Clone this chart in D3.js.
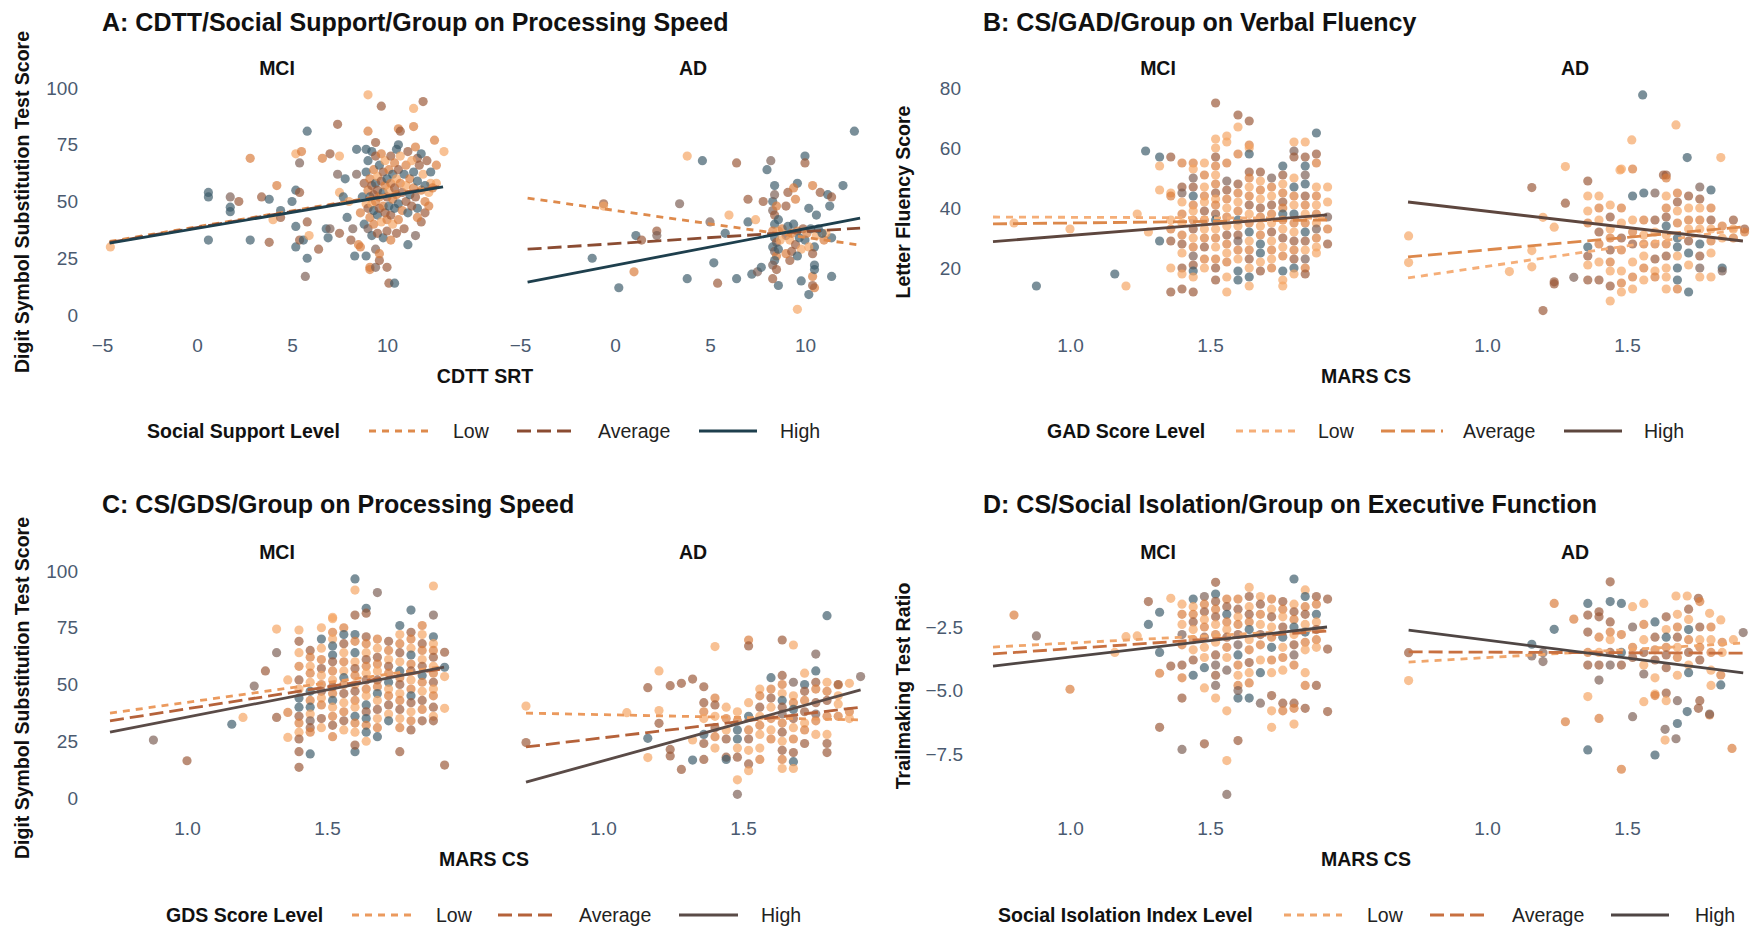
<!DOCTYPE html>
<html>
<head>
<meta charset="utf-8">
<script src="https://cdn.jsdelivr.net/npm/d3@7"></script>
<style>
  body { margin: 0; background: #fff; }
  text { font-family: "Liberation Sans", Arial, Helvetica, sans-serif; }
  .title { font-size: 25px; font-weight: bold; fill: #111; }
  .facet { font-size: 19.5px; font-weight: bold; fill: #111; text-anchor: middle; }
  .axtitle { font-size: 19.5px; font-weight: bold; fill: #111; text-anchor: middle; }
  .legtitle { font-size: 19.5px; font-weight: bold; fill: #111; }
  .leglabel { font-size: 19.5px; fill: #222; }
</style>
</head>
<body>
<script>
// facets and moderator levels
const facets = ["MCI", "AD"];
const levels = ["Low", "Average", "High"];

// ---- Panel A: CDTT / Social Support ----
const aXTicks = [-5, 0, 5, 10];
const aYTicks = [0, 25, 50, 75, 100];
const aLineColors = ["#de8a4c", "#8b4c32", "#1e3f4d"];
// fitted lines: [x0, y0, x1, y1] for Low, Average, High
const aMciFit = [[-4.6, 32.4, 12.9, 57.0], [-4.6, 32.0, 12.9, 56.7], [-4.6, 31.7, 12.95, 56.4]];
const aAdFit = [[-4.6, 51.5, 12.9, 30.8], [-4.6, 29.0, 12.9, 38.3], [-4.6, 14.5, 12.9, 42.7]];
// points: [x, y, colour index]
const aMciPoints = [
  [-4.56,30,0],[0.6,54,4],[0.6,52,4],[0.6,33,4],[1.75,52,3],[1.75,47.5,4],[1.75,45.5,4],[2.2,50,2],[2.8,69,1],[2.8,33,4],
  [3.4,52,2],[3.8,51,4],[3.8,32,2],[4.0,42,0],[4.2,57,1],[4.4,46,4],[4.4,43,2],[5.0,50,4],[5.2,71,0],[5.5,72,1],
  [5.2,55,4],[5.4,54,2],[5.4,67,3],[5.2,39,4],[5.2,30,4],[5.4,33,2],[5.6,33,4],[5.7,17,3],[5.8,25,4],[5.8,81,4],
  [5.8,41,2],[5.9,35,0],[6.6,69,1],[7.0,71,2],[6.4,29,2],[6.8,38,4],[6.9,34,4],[7.0,38,3],[7.4,84,2],[7.4,62,3],
  [7.5,70,0],[7.5,54,0],[7.7,52,4],[7.8,60,4],[7.9,43,4],[7.5,36,2],[8.0,50,0],[8.1,33,2],[8.2,38,3],[8.3,26,4],
  [8.4,73,4],[8.4,62,3],[8.5,31,1],[8.6,30,1],[8.9,26,4],[8.9,73,4],[9.0,81,1],[9.1,21,1],[9.1,20,1],[9.4,21,3],
  [9.4,76,2],[9.7,92,2],[9.0,97,0],[10.1,14,2],[10.4,14,4],[10.0,21,2],[9.6,24,2],[10.6,82,1],[10.7,81,2],[10.6,75,4],
  [11.4,91,0],[11.4,83,1],[11.9,94,2],[12.5,77,1],[13.0,72,0],[12.6,66,1],[11.6,69,2],[11.5,35,3],[11.1,31,4],[11.6,47,4],
  [12.0,45,2],[12.2,48,1],[11.8,41,2],[12.3,58,0],[12.6,58,0],
  [8.6,45,1],[8.7,52,4],[8.8,58,2],[8.8,40,4],[8.9,49,0],[8.9,63,4],[9.0,55,1],[9.0,47,2],[9.0,68,4],[9.0,38,3],
  [9.1,60,1],[9.1,52,4],[9.1,43,1],[9.2,72,4],[9.2,57,2],[9.2,49,0],[9.2,35,4],[9.3,64,1],[9.3,53,2],[9.3,46,4],
  [9.3,40,1],[9.4,70,2],[9.4,58,4],[9.4,50,1],[9.4,29,3],[9.5,61,0],[9.5,55,2],[9.5,44,4],[9.5,36,2],[9.6,66,4],
  [9.6,52,1],[9.6,47,2],[9.6,27,1],[9.7,59,2],[9.7,41,0],[9.7,71,1],[9.8,54,4],[9.8,48,1],[9.8,63,2],[9.8,34,4],
  [9.9,57,1],[9.9,45,2],[9.9,68,0],[10.0,60,4],[10.0,52,2],[10.0,42,1],[10.0,37,2],[10.1,64,1],[10.1,55,0],[10.1,48,4],
  [10.2,70,2],[10.2,58,1],[10.2,44,2],[10.2,33,1],[10.3,62,4],[10.3,51,1],[10.3,40,0],[10.4,67,1],[10.4,56,2],[10.4,47,4],
  [10.5,73,4],[10.5,60,0],[10.5,53,1],[10.5,36,2],[10.6,64,2],[10.6,49,4],[10.6,42,1],[10.7,58,1],[10.7,70,0],[10.8,54,2],
  [10.8,46,1],[10.9,62,4],[10.9,38,2],[11.0,66,1],[11.0,57,0],[11.0,50,2],[11.1,72,2],[11.1,45,4],[11.2,60,1],[11.2,53,4],
  [11.3,68,0],[11.3,48,2],[11.4,56,1],[11.4,63,4],[11.5,74,1],[11.5,52,2],[11.6,59,4],[11.6,43,1],[11.7,66,2],[11.8,55,1],
  [11.8,71,4],[11.9,62,0],[12.0,57,4],[12.0,50,1],[12.1,68,2],[12.2,54,0],[12.3,63,4],[12.4,56,1]
];
const aAdPoints = [
  [12.6,81,4],[3.8,70,0],[4.6,68,4],[6.4,67,2],[8.2,68,3],[8.0,64,4],[10.0,70,4],[10.0,67,2],[-0.6,49,2],[-0.6,48,0],
  [3.4,49,3],[5.0,41,3],[6.0,44,0],[1.1,35,4],[1.4,33,2],[2.2,37,2],[2.2,35,3],[-1.2,25,4],[0.2,12,4],[1.0,19,1],
  [3.8,16,4],[5.2,23,4],[5.4,14,2],[6.4,16,4],[5.8,36,4],[7.0,41,4],[7.4,42,0],[7.0,51,2],[7.8,50,2],[7.2,18,4],
  [7.5,19,3],[7.7,21,4],[8.4,57,4],[9.6,58,4],[9.1,54,2],[9.4,56,1],[9.5,51,1],[9.0,48,2],[10.4,57,1],[10.8,54,2],
  [11.2,53,4],[11.4,52,2],[11.3,48,4],[12.0,57,4],[10.2,47,4],[10.6,44,4],[9.6,2.5,0],[10.2,9,4],[10.5,12,1],[10.4,13,2],
  [9.8,15,4],[10.4,17,1],[10.5,20,4],[10.5,22,4],[11.4,17,4],[10.5,30,4],[11.4,34,4],[11.1,36,0],[9.2,24,2],[8.6,13,4],
  [8.3,16,2],
  [8.3,50,4],[8.3,46,3],[8.4,44,2],[8.4,40,4],[8.3,37,1],[8.4,34,4],[8.5,32,2],[8.3,30,4],[8.4,28,3],[8.5,26,1],
  [8.4,24,4],[8.3,22,3],[8.5,20,2],[8.6,37,0],[8.6,42,4],[8.5,48,1],[8.4,53,3],[8.6,29,4],
  [8.8,38,1],[9.0,35,2],[9.1,39,4],[9.2,33,0],[9.3,36,1],[9.4,40,4],[9.5,31,2],[9.6,37,1],[9.7,34,4],[9.8,29,0],
  [9.9,38,2],[10.0,33,4],[10.1,36,1],[10.2,30,0],[10.3,38,4],[10.4,27,2],[10.6,35,0],[10.7,38,4],[11.0,33,1],[9.0,27,1],
  [9.3,28,2],[9.6,26,4],[8.7,33,0],[10.9,36,4]
];

// ---- Panel B: CS / GAD ----
const bXTicks = [1.0, 1.5];
const bYTicks = [20, 40, 60, 80];
const bLineColors = ["#f5ae78", "#dc884b", "#5d463e"];
const bMciFit = [[0.725, 37.0, 1.918, 36.6], [0.725, 34.7, 1.918, 36.0], [0.725, 28.8, 1.918, 37.7]];
const bAdFit = [[0.718, 16.7, 1.914, 33.0], [0.718, 23.7, 1.914, 33.7], [0.718, 42.0, 1.914, 29.0]];
const bMciPoints = [
  [1.36,57,2],[1.36,45,0],[1.36,44,1],[1.36,36,0],[1.36,33,1],[1.36,29,2],[1.36,20,0],
  [1.40,55,1],[1.40,47,2],[1.40,45,3],[1.40,42,0],[1.40,38,1],[1.40,35,0],[1.40,31,1],[1.40,28,2],[1.40,25,0],[1.40,20,2],[1.40,18,0],[1.40,13,2],
  [1.44,55,1],[1.44,53,0],[1.44,50,3],[1.44,47,2],[1.44,44,4],[1.44,41,1],[1.44,39,0],[1.44,36,1],[1.44,33,2],[1.44,30,0],[1.44,27,1],[1.44,24,3],[1.44,21,2],[1.44,19,4],[1.44,17,0],[1.44,12,2],
  [1.48,55,0],[1.48,51,1],[1.48,47,0],[1.48,44,1],[1.48,42,0],[1.48,39,2],[1.48,36,1],[1.48,33,0],[1.48,30,1],[1.48,27,2],[1.48,23,1],[1.48,20,0],
  [1.52,75,2],[1.52,63,0],[1.52,60,0],[1.52,57,2],[1.52,54,1],[1.52,51,0],[1.52,48,1],[1.52,45,2],[1.52,43,0],[1.52,41,1],[1.52,38,2],[1.52,36,4],[1.52,33,0],[1.52,30,1],[1.52,27,0],[1.52,23,1],[1.52,20,2],[1.52,16,2],
  [1.56,64,0],[1.56,62,0],[1.56,55,1],[1.56,49,3],[1.56,46,2],[1.56,43,1],[1.56,40,0],[1.56,37,1],[1.56,34,0],[1.56,31,2],[1.56,28,1],[1.56,25,0],[1.56,22,1],[1.56,17,0],[1.56,12,0],
  [1.60,71,2],[1.60,67,0],[1.60,58,1],[1.60,48,2],[1.60,45,1],[1.60,42,0],[1.60,39,1],[1.60,36,4],[1.60,34,0],[1.60,31,2],[1.60,29,3],[1.60,26,1],[1.60,23,0],[1.60,19,4],[1.60,16,4],
  [1.64,69,2],[1.64,61,1],[1.64,60,0],[1.64,58,4],[1.64,52,2],[1.64,50,1],[1.64,47,0],[1.64,44,1],[1.64,41,2],[1.64,38,0],[1.64,35,1],[1.64,32,4],[1.64,29,0],[1.64,26,1],[1.64,23,2],[1.64,20,0],[1.64,17,4],[1.64,14,0],
  [1.68,52,2],[1.68,49,0],[1.68,46,1],[1.68,43,0],[1.68,40,2],[1.68,37,1],[1.68,34,0],[1.68,31,1],[1.68,28,4],[1.68,25,4],[1.68,22,0],[1.68,19,2],
  [1.72,50,3],[1.72,47,1],[1.72,44,0],[1.72,41,2],[1.72,38,1],[1.72,35,0],[1.72,32,2],[1.72,29,0],[1.72,26,1],[1.72,23,0],[1.72,20,1],
  [1.76,54,4],[1.76,51,2],[1.76,48,0],[1.76,45,1],[1.76,42,2],[1.76,40,1],[1.76,38,4],[1.76,36,1],[1.76,33,0],[1.76,30,2],[1.76,27,0],[1.76,24,1],[1.76,19,4],[1.76,16,0],[1.76,14,0],
  [1.80,62,0],[1.80,59,3],[1.80,57,2],[1.80,50,0],[1.80,47,4],[1.80,44,1],[1.80,41,0],[1.80,38,4],[1.80,35,1],[1.80,32,0],[1.80,29,2],[1.80,26,1],[1.80,23,2],[1.80,20,4],[1.80,18,0],
  [1.84,62,0],[1.84,57,2],[1.84,54,4],[1.84,51,3],[1.84,48,4],[1.84,44,2],[1.84,41,1],[1.84,38,0],[1.84,35,1],[1.84,32,4],[1.84,29,2],[1.84,26,0],[1.84,23,3],[1.84,20,1],[1.84,18,2],
  [1.88,65,4],[1.88,58,2],[1.88,55,1],[1.88,47,0],[1.88,44,1],[1.88,41,0],[1.88,38,1],[1.88,35,0],[1.88,33,3],[1.88,30,1],[1.88,27,0],[1.88,25,0],
  [1.92,47,0],[1.92,42,0],[1.92,37,3],[1.92,33,1],[1.92,28,2],
  [1.27,59,4],[1.32,57,4],[1.32,54,0],[1.32,46,0],[1.32,29,4],[1.24,38,0],[1.28,32,0],[1.0,33,0],[0.8,35,0],[0.88,14,4],
  [1.16,18,4],[1.2,14,0],[1.36,12,2]
];
const bAdPoints = [
  [1.556,77.7,4],[1.675,67.7,0],[1.517,62.7,0],[1.715,56.8,4],[1.835,56.8,0],[1.28,53.8,0],[1.16,46.8,2],[1.475,52.7,0],[1.63,51,2],[0.72,30.7,0],
  [0.72,21.8,0],[1.2,36.9,0],[1.24,33.6,0],[1.28,41.6,2],[1.2,5.8,2],[1.16,25.8,0],[1.16,20.4,0],[1.08,18.8,0],[1.24,15.4,2],[1.24,14.7,2],
  [1.31,16.9,3],
  [1.36,49,2],[1.36,44,0],[1.36,39,0],[1.36,35,1],[1.36,27,4],[1.36,24,2],[1.36,21,0],[1.36,16,2],
  [1.40,44,0],[1.40,40,1],[1.40,36,0],[1.40,32,2],[1.40,28,1],[1.40,22,0],[1.40,16,2],
  [1.44,41,0],[1.44,37,2],[1.44,33,0],[1.44,30,1],[1.44,26,2],[1.44,22,1],[1.44,19,0],[1.44,14,2],[1.44,9,0],
  [1.48,53,0],[1.48,40,1],[1.48,35,0],[1.48,30,2],[1.48,26,1],[1.48,19,0],[1.48,15,1],[1.48,12,0],
  [1.52,53,1],[1.52,44,4],[1.52,36,0],[1.52,32,1],[1.52,28,2],[1.52,22,0],[1.52,17,1],[1.52,13,0],
  [1.56,45,4],[1.56,36,1],[1.56,31,0],[1.56,28,1],[1.56,24,0],[1.56,20,1],[1.56,16,0],
  [1.60,45,3],[1.60,36,2],[1.60,32,0],[1.60,28,1],[1.60,23,2],[1.60,19,0],[1.60,17,1],
  [1.64,51,2],[1.64,50,1],[1.64,44,0],[1.64,40,1],[1.64,37,2],[1.64,34,4],[1.64,31,0],[1.64,28,1],[1.64,24,2],[1.64,20,0],[1.64,17,0],[1.64,13,0],
  [1.68,45,1],[1.68,42,2],[1.68,39,0],[1.68,35,1],[1.68,30,4],[1.68,27,4],[1.68,24,0],[1.68,20,4],[1.68,16,4],[1.68,13,1],
  [1.72,44,2],[1.72,40,0],[1.72,36,1],[1.72,33,0],[1.72,29,2],[1.72,25,4],[1.72,21,0],[1.72,12,4],
  [1.76,47,3],[1.76,43,2],[1.76,40,0],[1.76,36,1],[1.76,33,0],[1.76,28,4],[1.76,24,2],[1.76,20,3],[1.76,17,0],
  [1.80,46,4],[1.80,40,1],[1.80,36,2],[1.80,33,0],[1.80,29,1],[1.80,25,0],[1.80,17,0],
  [1.84,34,1],[1.84,30,0],[1.84,20,4],[1.84,19,3],
  [1.88,36,2],[1.88,33,0],[1.88,30,1],
  [1.92,33,2],[1.92,32,1]
];

// ---- Panel C: CS / GDS ----
const cXTicks = [1.0, 1.5];
const cYTicks = [0, 25, 50, 75, 100];
const cLineColors = ["#eb9a5e", "#b5623a", "#5a4b47"];
const cMciFit = [[0.725, 37.4, 1.918, 58.0], [0.725, 34.0, 1.918, 57.0], [0.725, 29.0, 1.918, 57.7]];
const cAdFit = [[0.725, 37.4, 1.92, 34.4], [0.725, 22.5, 1.92, 40.0], [0.725, 7.0, 1.92, 47.6]];
const cMciPoints = [
  [0.88,25.5,3],[1.0,16.4,2],[1.16,32.5,4],[1.2,35.5,0],[1.24,49.3,3],[1.28,56,2],[1.32,74.4,0],[1.32,64,3],[1.32,35.5,2],[1.36,52,0],
  [1.36,37.7,1],[1.36,26.7,0],[1.6,96.5,4],[1.6,91.6,0],[1.68,90.5,3],[1.88,93.4,0],[1.88,80.6,3],[1.8,82.8,4],[1.64,83.6,4],[1.64,81.4,2],
  [1.6,80.6,2],[1.92,64.2,2],[1.92,57.6,4],[1.92,53.5,0],[1.92,39.5,0],[1.92,14.5,2],[1.6,20.4,4],[1.6,23.3,2],[1.76,20.4,2],[1.4,13.5,2],
  [1.44,19.4,4],[1.4,20.4,2],[1.52,79.6,0],
  [1.40,74,0],[1.40,69,2],[1.40,64,0],[1.40,58,1],[1.40,52,2],[1.40,48,0],[1.40,44,4],[1.40,40,4],[1.40,36,2],[1.40,33,1],[1.40,29,0],[1.40,26,2],
  [1.44,65,2],[1.44,62,1],[1.44,58,0],[1.44,55,1],[1.44,51,0],[1.44,47,4],[1.44,43,1],[1.44,40,4],[1.44,37,0],[1.44,34,3],[1.44,31,2],[1.44,29,1],
  [1.48,75,0],[1.48,70,4],[1.48,66,0],[1.48,61,1],[1.48,57,2],[1.48,54,0],[1.48,50,1],[1.48,47,2],[1.48,44,0],[1.48,41,1],[1.48,35,2],[1.48,31,0],
  [1.52,79,0],[1.52,73,1],[1.52,70,0],[1.52,67,4],[1.52,63,4],[1.52,60,2],[1.52,56,1],[1.52,52,0],[1.52,49,2],[1.52,46,1],[1.52,43,4],[1.52,40,0],[1.52,36,1],[1.52,32,2],[1.52,27,1],
  [1.56,75,1],[1.56,72,4],[1.56,68,2],[1.56,64,0],[1.56,60,1],[1.56,56,0],[1.56,53,4],[1.56,50,1],[1.56,46,2],[1.56,42,0],[1.56,38,1],[1.56,34,2],[1.56,30,0],
  [1.60,72,4],[1.60,69,1],[1.60,64,4],[1.60,60,0],[1.60,57,2],[1.60,54,1],[1.60,50,0],[1.60,47,2],[1.60,43,1],[1.60,40,0],[1.60,36,4],[1.60,33,1],[1.60,29,0],
  [1.64,71,2],[1.64,68,1],[1.64,64,0],[1.64,61,2],[1.64,58,1],[1.64,55,0],[1.64,52,2],[1.64,48,1],[1.64,45,0],[1.64,41,4],[1.64,38,2],[1.64,35,4],[1.64,32,1],[1.64,29,4],[1.64,25,0],
  [1.68,70,1],[1.68,66,0],[1.68,62,2],[1.68,59,1],[1.68,56,0],[1.68,52,2],[1.68,49,1],[1.68,46,4],[1.68,43,0],[1.68,39,2],[1.68,35,0],[1.68,31,1],[1.68,27,4],
  [1.72,69,2],[1.72,65,1],[1.72,61,0],[1.72,58,2],[1.72,55,1],[1.72,51,4],[1.72,48,0],[1.72,45,1],[1.72,41,2],[1.72,37,0],[1.72,34,4],
  [1.76,76,4],[1.76,72,0],[1.76,68,1],[1.76,64,2],[1.76,60,0],[1.76,56,4],[1.76,53,1],[1.76,50,2],[1.76,46,0],[1.76,43,1],[1.76,39,2],[1.76,35,0],[1.76,31,1],
  [1.80,73,2],[1.80,70,1],[1.80,66,0],[1.80,63,4],[1.80,59,1],[1.80,56,2],[1.80,52,0],[1.80,48,1],[1.80,45,4],[1.80,42,2],[1.80,38,0],[1.80,34,1],[1.80,30,2],
  [1.84,76,1],[1.84,72,0],[1.84,68,2],[1.84,65,1],[1.84,61,0],[1.84,58,2],[1.84,54,4],[1.84,51,1],[1.84,47,0],[1.84,43,2],[1.84,39,1],[1.84,34,2],
  [1.88,71,4],[1.88,68,0],[1.88,65,1],[1.88,62,2],[1.88,58,0],[1.88,55,1],[1.88,51,2],[1.88,48,0],[1.88,45,1],[1.88,40,2],[1.88,36,0],[1.88,34,2]
];
const cAdPoints = [
  [1.80,80.3,4],[0.725,24.4,2],[0.725,40.5,0],[1.085,37.6,0],[1.16,26.3,4],[1.16,17.8,0],[1.16,48.6,2],[1.2,56,0],[1.2,38.5,0],[1.2,32.9,2],
  [1.24,49.5,2],[1.24,21.4,2],[1.24,18.5,2],[1.28,50.5,2],[1.28,12.6,2],[1.32,52.4,2],[1.32,16.7,4],[1.32,25.6,0],[1.4,66.7,0],[1.52,69.6,1],
  [1.52,67,2],[1.64,69.6,2],[1.68,67.4,0],[1.76,63.4,3],[1.92,53.5,3],[1.88,50.5,0],[1.48,1.6,3],[1.84,49.8,0],[1.84,41.4,0],
  [1.36,49,2],[1.36,42,2],[1.36,38,1],[1.36,35,0],[1.36,28,4],[1.36,24,2],[1.36,17,2],
  [1.40,44,1],[1.40,41,2],[1.40,36,0],[1.40,31,2],[1.40,27,1],[1.40,22,0],
  [1.44,40,0],[1.44,35,1],[1.44,30,0],[1.44,26,2],[1.44,18,2],[1.44,17,4],
  [1.48,38,0],[1.48,34,1],[1.48,30,4],[1.48,26,4],[1.48,22,0],[1.48,18,2],[1.48,8,0],
  [1.52,42,0],[1.52,36,4],[1.52,30,1],[1.52,26,2],[1.52,21,0],[1.52,15,2],[1.52,12,0],
  [1.56,48,0],[1.56,45,1],[1.56,40,2],[1.56,36,0],[1.56,32,1],[1.56,28,0],[1.56,22,0],[1.56,17,1],
  [1.60,53,4],[1.60,48,1],[1.60,44,2],[1.60,40,0],[1.60,35,1],[1.60,30,0],[1.60,26,1],
  [1.64,54,2],[1.64,50,1],[1.64,46,0],[1.64,43,4],[1.64,40,2],[1.64,37,3],[1.64,33,1],[1.64,29,2],[1.64,25,0],[1.64,21,2],[1.64,17,1],[1.64,13,0],
  [1.68,51,3],[1.68,45,0],[1.68,42,1],[1.68,39,4],[1.68,35,2],[1.68,31,0],[1.68,26,1],[1.68,20,2],[1.68,16,4],[1.68,13,0],
  [1.72,55,0],[1.72,50,4],[1.72,47,2],[1.72,43,1],[1.72,38,2],[1.72,33,0],[1.72,30,1],[1.72,24,2],
  [1.76,56,4],[1.76,51,2],[1.76,48,1],[1.76,42,2],[1.76,37,3],[1.76,34,1],[1.76,28,0],
  [1.80,51,0],[1.80,47,1],[1.80,43,2],[1.80,36,1],[1.80,28,0],[1.80,24,2],[1.80,20,2],
  [1.84,50,2],[1.84,45,0],[1.84,36,1],
  [1.88,38,1],[1.88,35,0]
];

// ---- Panel D: CS / Social Isolation ----
const dXTicks = [1.0, 1.5];
const dYTicks = [-2.5, -5.0, -7.5];
const dLineColors = ["#f0a66c", "#c87040", "#4f4644"];
const dMciFit = [[0.725, -3.29, 1.918, -2.6], [0.725, -3.56, 1.918, -2.66], [0.725, -4.04, 1.918, -2.5]];
const dAdFit = [[0.72, -3.88, 1.915, -3.13], [0.72, -3.48, 1.915, -3.53], [0.72, -2.62, 1.915, -4.31]];
const dMciPoints = [
  [0.80,-2.03,1],[0.88,-2.85,3],[1.0,-4.95,1],[1.16,-3.5,0],[1.2,-2.88,0],[1.24,-2.85,0],[1.28,-1.5,2],[1.28,-2.4,4],[1.32,-1.92,4],[1.32,-3.5,4],
  [1.32,-4.32,1],[1.32,-6.45,2],[1.36,-1.37,0],[1.36,-4.04,2],[1.40,-7.32,3],[1.40,-5.3,2],[1.48,-7.1,2],[1.56,-7.76,0],[1.56,-9.09,3],[1.60,-6.97,2],
  [1.52,-0.74,2],[1.80,-0.61,4],[1.64,-0.94,0],[1.92,-1.4,2],[1.92,-3.37,2],[1.92,-5.83,2],[1.84,-1.04,0],[1.72,-6.45,0],[1.80,-6.32,0],
  [1.40,-1.6,0],[1.40,-2.0,1],[1.40,-2.4,0],[1.40,-2.8,3],[1.40,-3.2,1],[1.40,-4.0,2],[1.40,-4.5,1],
  [1.44,-1.4,4],[1.44,-1.7,0],[1.44,-2.0,1],[1.44,-2.3,2],[1.44,-2.6,0],[1.44,-3.0,1],[1.44,-3.4,0],[1.44,-3.8,2],[1.44,-4.4,4],
  [1.48,-1.3,3],[1.48,-1.6,1],[1.48,-1.9,2],[1.48,-2.2,0],[1.48,-2.5,1],[1.48,-2.9,2],[1.48,-3.3,0],[1.48,-3.7,0],[1.48,-4.1,4],[1.48,-4.9,0],
  [1.52,-1.2,4],[1.52,-1.5,2],[1.52,-1.8,1],[1.52,-2.1,2],[1.52,-2.4,0],[1.52,-2.8,1],[1.52,-3.1,0],[1.52,-3.6,2],[1.52,-4.0,3],[1.52,-4.4,2],[1.52,-4.8,3],[1.52,-5.3,0],
  [1.56,-1.4,1],[1.56,-1.7,2],[1.56,-2.0,4],[1.56,-2.3,1],[1.56,-2.6,0],[1.56,-2.9,2],[1.56,-3.3,1],[1.56,-3.7,0],[1.56,-4.2,3],[1.56,-5.8,0],
  [1.60,-1.4,1],[1.60,-1.8,2],[1.60,-2.1,0],[1.60,-2.4,1],[1.60,-2.8,2],[1.60,-3.2,3],[1.60,-3.6,4],[1.60,-4.0,1],[1.60,-4.4,0],[1.60,-4.8,1],[1.60,-5.3,4],[1.60,-5.0,3],
  [1.64,-1.3,2],[1.64,-1.7,0],[1.64,-2.0,2],[1.64,-2.3,1],[1.64,-2.6,4],[1.64,-3.0,0],[1.64,-3.4,1],[1.64,-3.9,2],[1.64,-4.3,0],[1.64,-4.7,1],[1.64,-5.3,4],
  [1.68,-1.3,0],[1.68,-1.6,2],[1.68,-2.0,1],[1.68,-2.4,0],[1.68,-2.8,2],[1.68,-3.2,1],[1.68,-3.8,0],[1.68,-4.3,4],[1.68,-5.5,3],
  [1.72,-1.4,1],[1.72,-1.8,0],[1.72,-2.1,2],[1.72,-2.5,0],[1.72,-2.9,1],[1.72,-3.3,4],[1.72,-3.8,1],[1.72,-4.3,0],[1.72,-5.2,2],[1.72,-5.8,0],
  [1.76,-1.5,2],[1.76,-1.8,1],[1.76,-2.1,0],[1.76,-2.5,2],[1.76,-2.9,4],[1.76,-3.3,0],[1.76,-3.7,1],[1.76,-4.2,0],[1.76,-5.5,2],[1.76,-5.8,1],
  [1.80,-1.6,0],[1.80,-1.9,2],[1.80,-2.2,1],[1.80,-2.5,4],[1.80,-2.8,0],[1.80,-3.2,2],[1.80,-3.6,3],[1.80,-4.0,1],[1.80,-5.5,2],[1.80,-5.7,1],
  [1.84,-1.3,4],[1.84,-1.7,1],[1.84,-2.0,2],[1.84,-2.4,0],[1.84,-2.7,4],[1.84,-3.1,1],[1.84,-3.4,0],[1.84,-4.3,0],[1.84,-4.8,1],[1.84,-5.7,2],
  [1.88,-1.3,2],[1.88,-1.6,1],[1.88,-2.0,4],[1.88,-2.3,0],[1.88,-2.6,2],[1.88,-3.0,1],[1.88,-3.3,0],[1.88,-4.8,2]
];
const dAdPoints = [
  [0.72,-4.61,0],[0.72,-3.51,2],[1.16,-3.18,4],[1.16,-3.64,3],[1.2,-3.51,3],[1.2,-3.86,3],[1.24,-1.57,1],[1.24,-2.59,4],[1.28,-6.23,1],[1.31,-2.19,1],
  [1.36,-1.57,4],[1.36,-2.03,2],[1.36,-7.34,4],[1.36,-5.24,0],[1.40,-1.9,2],[1.40,-4.59,3],[1.40,-6.1,1],[1.44,-0.72,2],[1.44,-1.5,4],[1.48,-1.57,4],
  [1.48,-8.1,1],[1.52,-1.7,0],[1.56,-1.57,0],[1.56,-4.35,3],[1.56,-5.44,0],[1.52,-6.03,3],[1.60,-7.54,4],[1.60,-5.14,0],[1.675,-1.28,0],[1.715,-1.28,0],
  [1.755,-1.37,2],[1.795,-1.96,0],[1.835,-2.22,0],[1.835,-4.78,4],[1.915,-2.72,3],[1.875,-7.28,1],[1.675,-6.9,3],[1.636,-6.95,0],[1.636,-6.53,3],[1.795,-5.96,1],
  [1.795,-5.93,3],[1.755,-5.7,2],[1.715,-5.83,4],[1.835,-4.39,1],
  [1.36,-2.7,2],[1.36,-3.5,1],[1.36,-4.0,2],
  [1.40,-2.1,2],[1.40,-2.9,1],[1.40,-3.5,0],[1.40,-4.0,2],
  [1.44,-2.3,2],[1.44,-2.7,1],[1.44,-3.0,0],[1.44,-3.5,2],[1.44,-4.0,3],
  [1.48,-2.8,1],[1.48,-3.5,4],[1.48,-4.0,2],
  [1.52,-2.5,3],[1.52,-3.3,1],[1.52,-3.7,2],
  [1.56,-2.4,1],[1.56,-3.0,0],[1.56,-3.5,2],[1.56,-4.0,0],
  [1.60,-2.3,4],[1.60,-2.9,2],[1.60,-3.4,1],[1.60,-3.8,2],[1.60,-4.5,0],[1.60,-5.2,1],
  [1.64,-2.1,2],[1.64,-2.6,0],[1.64,-2.9,4],[1.64,-3.3,1],[1.64,-3.6,2],[1.64,-4.1,2],[1.64,-5.1,2],[1.64,-5.4,0],
  [1.68,-2.0,0],[1.68,-2.5,1],[1.68,-2.9,2],[1.68,-3.3,0],[1.68,-3.7,1],[1.68,-4.4,0],[1.68,-5.4,3],[1.68,-6.3,4],
  [1.72,-1.8,2],[1.72,-2.2,0],[1.72,-2.6,4],[1.72,-3.0,1],[1.72,-3.5,2],[1.72,-4.0,0],[1.72,-4.3,4],
  [1.76,-1.5,1],[1.76,-2.5,2],[1.76,-3.0,0],[1.76,-3.3,1],[1.76,-3.8,2],[1.76,-5.4,2],
  [1.80,-2.5,1],[1.80,-3.0,0],[1.80,-3.5,1],[1.80,-4.2,0],[1.80,-4.8,0],
  [1.84,-3.1,1],[1.84,-3.5,0],
  [1.88,-3.0,0]
];

// shared styling
const pointColors = ["#f5a462", "#d97a3a", "#9a5736", "#7a5d53", "#3b5a69"];
const plotDash = ["7,6", "14,6", null];
const keyDash = ["7,6", "14,6", null];
const tickColor = "#4a5a70";

const svg = d3.select("body").append("svg")
    .attr("width", 1754)
    .attr("height", 928);

// Panel layout (pixel positions only)
const panels = [
  { title: "A: CDTT/Social Support/Group on Processing Speed", titleX: 102, titleY: 31,
    xTicks: aXTicks, xRef: [-5, 10], xPx: [[102, 387], [520, 805]], xFmt: d3.format("d"),
    yTicks: aYTicks, yRef: [0, 100], yPx: [315, 88], yFmt: d3.format("d"),
    points: [aMciPoints, aAdPoints], fits: [aMciFit, aAdFit], lineColors: aLineColors,
    facetX: [277, 693], facetY: 75, yTickRight: 78, xTickBase: 352,
    xTitle: "CDTT SRT", xTitleX: 485, xTitleY: 383,
    yTitle: "Digit Symbol Substitution Test Score", yTitleX: 29, yTitleY: 202,
    legTitle: "Social Support Level", legY: 431, legTitleX: 147,
    keys: [[369, 431], [517, 576], [699, 757]], labX: [453, 598, 780] },
  { title: "B: CS/GAD/Group on Verbal Fluency", titleX: 983, titleY: 31,
    xTicks: bXTicks, xRef: [1.0, 1.5], xPx: [[1070, 1210], [1487, 1627]], xFmt: d3.format(".1f"),
    yTicks: bYTicks, yRef: [20, 80], yPx: [268, 88], yFmt: d3.format("d"),
    points: [bMciPoints, bAdPoints], fits: [bMciFit, bAdFit], lineColors: bLineColors,
    facetX: [1158, 1575], facetY: 75, yTickRight: 961, xTickBase: 352,
    xTitle: "MARS CS", xTitleX: 1366, xTitleY: 383,
    yTitle: "Letter Fluency Score", yTitleX: 910, yTitleY: 202,
    legTitle: "GAD Score Level", legY: 431, legTitleX: 1047,
    keys: [[1236, 1295], [1381, 1443], [1564, 1622]], labX: [1318, 1463, 1644] },
  { title: "C: CS/GDS/Group on Processing Speed", titleX: 102, titleY: 513,
    xTicks: cXTicks, xRef: [1.0, 1.5], xPx: [[187, 327], [603, 743]], xFmt: d3.format(".1f"),
    yTicks: cYTicks, yRef: [0, 100], yPx: [798, 571], yFmt: d3.format("d"),
    points: [cMciPoints, cAdPoints], fits: [cMciFit, cAdFit], lineColors: cLineColors,
    facetX: [277, 693], facetY: 559, yTickRight: 78, xTickBase: 835,
    xTitle: "MARS CS", xTitleX: 484, xTitleY: 866,
    yTitle: "Digit Symbol Substitution Test Score", yTitleX: 29, yTitleY: 688,
    legTitle: "GDS Score Level", legY: 915, legTitleX: 166,
    keys: [[352, 412], [498, 557], [679, 738]], labX: [436, 579, 761] },
  { title: "D: CS/Social Isolation/Group on Executive Function", titleX: 983, titleY: 513,
    xTicks: dXTicks, xRef: [1.0, 1.5], xPx: [[1070, 1210], [1487, 1627]], xFmt: d3.format(".1f"),
    yTicks: dYTicks, yRef: [-2.5, -7.5], yPx: [627, 754], yFmt: d3.format(".1f"),
    points: [dMciPoints, dAdPoints], fits: [dMciFit, dAdFit], lineColors: dLineColors,
    facetX: [1158, 1575], facetY: 559, yTickRight: 963, xTickBase: 835,
    xTitle: "MARS CS", xTitleX: 1366, xTitleY: 866,
    yTitle: "Trailmaking Test Ratio", yTitleX: 910, yTitleY: 686,
    legTitle: "Social Isolation Index Level", legY: 915, legTitleX: 998,
    keys: [[1284, 1342], [1430, 1488], [1611, 1669]], labX: [1367, 1512, 1695] }
];

panels.forEach(drawPanel);

function drawPanel(p) {
    const g = svg.append("g");

    g.append("text").attr("class", "title")
        .attr("x", p.titleX).attr("y", p.titleY)
        .text(p.title);

    const y = d3.scaleLinear().domain(p.yRef).range(p.yPx);

    // y tick labels (only on first facet)
    const yAxis = g.append("g")
        .attr("transform", `translate(${p.yTickRight},0)`)
        .call(d3.axisLeft(y).tickValues(p.yTicks).tickFormat(p.yFmt).tickSize(0).tickPadding(0));
    styleAxis(yAxis);

    facets.forEach((f, i) => {
        const x = d3.scaleLinear().domain(p.xRef).range(p.xPx[i]);

        g.append("text").attr("class", "facet")
            .attr("x", p.facetX[i]).attr("y", p.facetY)
            .text(f);

        // scatter points
        g.append("g").selectAll("circle")
            .data(p.points[i])
            .join("circle")
            .attr("cx", d => x(d[0]))
            .attr("cy", d => y(d[1]))
            .attr("r", 4.6)
            .attr("fill", d => pointColors[d[2]])
            .attr("fill-opacity", 0.68);

        // fitted lines per level
        g.append("g").selectAll("line")
            .data(p.fits[i])
            .join("line")
            .attr("x1", d => x(d[0])).attr("y1", d => y(d[1]))
            .attr("x2", d => x(d[2])).attr("y2", d => y(d[3]))
            .attr("stroke", (d, j) => p.lineColors[j])
            .attr("stroke-width", 2.8)
            .attr("stroke-dasharray", (d, j) => plotDash[j]);

        // x tick labels
        const xAxis = g.append("g")
            .attr("transform", `translate(0,${p.xTickBase - 13.5})`)
            .call(d3.axisBottom(x).tickValues(p.xTicks).tickFormat(p.xFmt).tickSize(0).tickPadding(0));
        styleAxis(xAxis);
    });

    // axis titles
    g.append("text").attr("class", "axtitle")
        .attr("x", p.xTitleX).attr("y", p.xTitleY)
        .text(p.xTitle);
    g.append("text").attr("class", "axtitle")
        .attr("transform", `translate(${p.yTitleX},${p.yTitleY}) rotate(-90)`)
        .text(p.yTitle);

    // legend
    const leg = g.append("g").attr("transform", `translate(0,${p.legY})`);
    leg.append("text").attr("class", "legtitle")
        .attr("x", p.legTitleX).attr("dy", "0.35em")
        .text(p.legTitle);
    levels.forEach((lv, j) => {
        leg.append("line")
            .attr("x1", p.keys[j][0]).attr("x2", p.keys[j][1])
            .attr("stroke", p.lineColors[j])
            .attr("stroke-width", 3)
            .attr("stroke-dasharray", keyDash[j]);
        leg.append("text").attr("class", "leglabel")
            .attr("x", p.labX[j]).attr("dy", "0.35em")
            .text(lv);
    });
}

function styleAxis(sel) {
    sel.select(".domain").remove();
    sel.selectAll("text")
        .attr("fill", tickColor)
        .style("font-size", "19px")
        .style("font-family", '"Liberation Sans", Arial, sans-serif');
}
</script>
</body>
</html>
